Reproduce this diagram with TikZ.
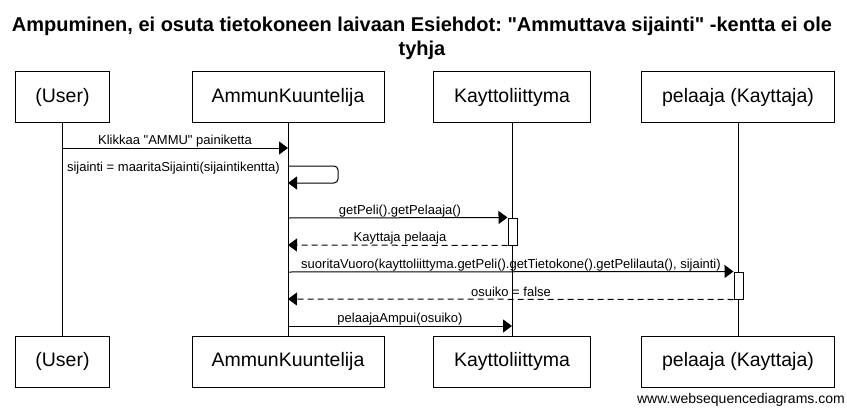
\documentclass[tikz,border=0pt]{standalone}
\usepackage{fontspec}
\setmainfont{Liberation Sans}[Ligatures=TeXOff]
\usetikzlibrary{arrows.meta}
\frenchspacing
\tikzset{
  actor/.style={draw, line width=1pt, minimum height=51pt, inner sep=0pt, font=\fontsize{19.5}{21}\selectfont},
  msg/.style={-{Triangle[length=9pt,width=13pt]}, line width=1pt},
  ret/.style={msg, dash pattern=on 6pt off 4pt},
  lbl/.style={inner sep=0pt, font=\fontsize{13}{14}\selectfont},
  act/.style={draw, fill=white, line width=1pt, minimum width=9pt, minimum height=27pt, inner sep=0pt},
  life/.style={line width=1pt},
}
\begin{document}
\frenchspacing
\begin{tikzpicture}[x=1pt,y=-1pt]
\fill[white] (0,0) rectangle (847,410);
\useasboundingbox (0,0) rectangle (847,410);

\node[align=center, font=\bfseries\fontsize{20}{23.5}\selectfont] (title) at (422,38.5)
  {Ampuminen, ei osuta tietokoneen laivaan Esiehdot: "Ammuttava sijainti" -kentta ei ole\\tyhja};

% lifelines
\draw[life] (62.5,122) coordinate (uT) -- (62.5,336) coordinate (uB);
\draw[life] (288,122) coordinate (aT) -- (288,336) coordinate (aB);
\draw[life] (512,122) coordinate (kT) -- (512,336) coordinate (kB);
\draw[life] (738,122) coordinate (pT) -- (738,336) coordinate (pB);

% top boxes
\node[actor, fill=white, minimum width=93.6pt] (u1) at (62.5,97) {(User)};
\node[actor, fill=white, minimum width=192pt] (a1) at (288,97) {AmmunKuuntelija};
\node[actor, fill=white, minimum width=157.7pt] (k1) at (512,97) {Kayttoliittyma};
\node[actor, fill=white, minimum width=192.6pt] (p1) at (738,97) {pelaaja (Kayttaja)};
% bottom boxes
\node[actor, fill=white, minimum width=93.6pt] (u2) at (62.5,361.7) {(User)};
\node[actor, fill=white, minimum width=192pt] (a2) at (288,361.7) {AmmunKuuntelija};
\node[actor, fill=white, minimum width=157.7pt] (k2) at (512,361.7) {Kayttoliittyma};
\node[actor, fill=white, minimum width=192.6pt] (p2) at (738,361.7) {pelaaja (Kayttaja)};

% activation boxes
\node[act] (ka) at (512.5,231.5) {};
\node[act] (pa) at (738.5,285.5) {};

% message endpoints
\coordinate (m1s) at (62.5,148);
\coordinate (m1e) at (288,148);
\coordinate (s1) at (288,166);
\coordinate (s2) at (288,183);
\coordinate (m3s) at (288,218);
\coordinate (m4e) at (288,245);
\coordinate (m5s) at (288,272);
\coordinate (m6e) at (288,299);
\coordinate (m7s) at (288,326);
\coordinate (m7e) at (512,326);

% messages
\draw[msg] (m1s) -- (m1e);
\node[lbl] (l1) at (175,141) {Klikkaa "AMMU" painiketta};

\draw[msg, rounded corners=4pt] (s1) -- ++(50,0) -- ++(0,17) -- (s2);
\node[lbl, anchor=east] (l2) at (280,168) {sijainti = maaritaSijainti(sijaintikentta)};

\draw[msg] (m3s) -- (ka.north west);
\node[lbl] (l3) at (400,211) {getPeli().getPelaaja()};

\draw[ret] (ka.south west) -- (m4e);
\node[lbl] (l4) at (400,238) {Kayttaja pelaaja};

\draw[msg] (m5s) -- (pa.north west);
\node[lbl] (l5) at (511,265.5) {suoritaVuoro(kayttoliittyma.getPeli().getTietokone().getPelilauta(), sijainti)};

\draw[ret] (pa.south west) -- (m6e);
\node[lbl] (l6) at (511,292) {osuiko = false};

\draw[msg] (m7s) -- (m7e);
\node[lbl] (l7) at (400,319) {pelaajaAmpui(osuiko)};

\node[inner sep=0pt, anchor=east, font=\fontsize{14}{15}\selectfont] (wm) at (845,400) {www.websequencediagrams.com};
\end{tikzpicture}
\end{document}
